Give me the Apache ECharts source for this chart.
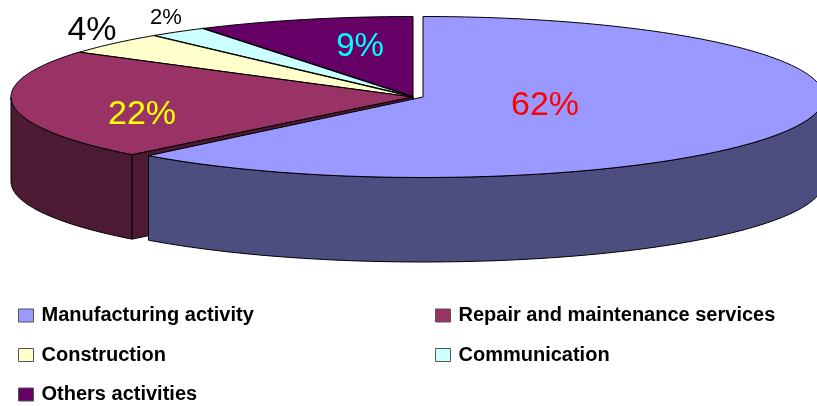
<!DOCTYPE html>
<html>
<head>
<meta charset="utf-8">
<style>html,body{margin:0;padding:0;background:#fff}#c{width:817px;height:406px}</style>
<script src="https://cdn.jsdelivr.net/npm/echarts@6/dist/echarts.min.js"></script>
</head>
<body>
<div id="c"></div>
<script>
// --- data ---
const categories = ['Manufacturing activity','Repair and maintenance services','Construction','Communication','Others activities'];
const shares = [62.0, 22.4, 4.4, 2.4, 8.8];
const labels = ['62%','22%','4%','2%','9%'];

// --- styles and layout ---
const topColors  = ['#9999FF','#993366','#FFFFCC','#CCFFFF','#660066'];
const wallColors = ['#4D4D80','#4D1A33','#80806A','#6A8080','#330033'];
const labelColors = ['#FF0000','#FFFF00','#000000','#000000','#00FFFF'];
const labelSizes = [34,34,34,22,33];
const labelPos = [[545,106],[142,115],[92,31],[166,18],[360,47]];
const centers = [[423,97],[412,97],[413,97],[413,97],[413,97]];
const explodeGapDeg = [0,1.1,0,0,0];
const seamWidth = [1,1,1,2,2];
const RX = 401, RY = 80.5, DEPTH = 84.5;
const total = shares.reduce((a,b)=>a+b,0);
const startDeg = shares.map((_,i)=>shares.slice(0,i).reduce((a,b)=>a+b,0)/total*360);

function pt(c,deg,dy){
  const t = deg*Math.PI/180;
  return [c[0]+RX*Math.sin(t), c[1]-RY*Math.cos(t)+(dy||0)];
}
function arc(c,a,b,dy){
  const out=[], n=Math.max(2,Math.ceil(Math.abs(b-a)));
  for(let k=0;k<=n;k++) out.push(pt(c,a+(b-a)*k/n,dy));
  return out;
}
const edge = {stroke:'#000',lineWidth:1,lineJoin:'round'};

function renderSlice(i){
  return function(params,api){
    const c = centers[i], a0 = startDeg[i], b = a0+api.value(0)/total*360, a = a0+explodeGapDeg[i];
    const kids = [];
    const wall = (pts)=>kids.push({type:'polygon',shape:{points:pts},style:Object.assign({fill:wallColors[i]},edge)});
    // side face at the start radius, when it turns towards the viewer
    if(a>180 && a<360){
      const p=pt(c,a);
      wall([[c[0],c[1]],p,[p[0],p[1]+DEPTH],[c[0],c[1]+DEPTH]]);
    }
    // curved outer wall: only the front half of the ellipse is visible
    const from=Math.max(a,90), to=Math.min(b,270);
    if(to>from){
      wall(arc(c,from,to,0).concat(arc(c,to,from,DEPTH)));
    }
    // top face
    kids.push({type:'polygon',shape:{points:[[c[0],c[1]]].concat(arc(c,a,b,0))},
      style:Object.assign({fill:topColors[i]},edge)});
    // heavier seam along the end radius of the narrow slices
    if(seamWidth[i]>1){
      kids.push({type:'polyline',shape:{points:[[c[0],c[1]],pt(c,a)]},style:{stroke:'#000',lineWidth:seamWidth[i],fill:null}});
    }
    // percentage label
    kids.push({type:'text',z2:10,style:{text:labels[i],x:labelPos[i][0],y:labelPos[i][1],
      align:'center',verticalAlign:'middle',fill:labelColors[i],
      font:labelSizes[i]+'px "Liberation Sans", Arial, sans-serif'}});
    return {type:'group',children:kids};
  };
}

// back-to-front drawing order
const drawOrder = [4,3,2,1,0];
const series = drawOrder.map((i,o)=>({
  type:'custom',
  name:categories[i],
  coordinateSystem:'none',
  z:2+o,
  silent:true,
  itemStyle:{color:topColors[i]},
  renderItem:renderSlice(i),
  data:[{name:categories[i],value:[shares[i]]}]
}));

const legendCommon = {
  orient:'vertical',
  icon:'rect',
  itemWidth:15,
  itemHeight:13,
  itemGap:16.5,
  selectedMode:false,
  itemStyle:{borderColor:'#555',borderWidth:1},
  textStyle:{fontFamily:'"Liberation Sans", Arial, sans-serif',fontWeight:'bold',fontSize:20,color:'#000',lineHeight:23,padding:[0,0,0,3]},
  padding:0
};

const chart = echarts.init(document.getElementById('c'),null,{renderer:'canvas'});
chart.setOption({
  animation:false,
  backgroundColor:'#fff',
  tooltip:{show:false},
  legend:[
    Object.assign({},legendCommon,{left:18,top:304,data:[categories[0],categories[2],categories[4]]}),
    Object.assign({},legendCommon,{left:435,top:304,data:[categories[1],categories[3]]})
  ],
  series
});
</script>
</body>
</html>
